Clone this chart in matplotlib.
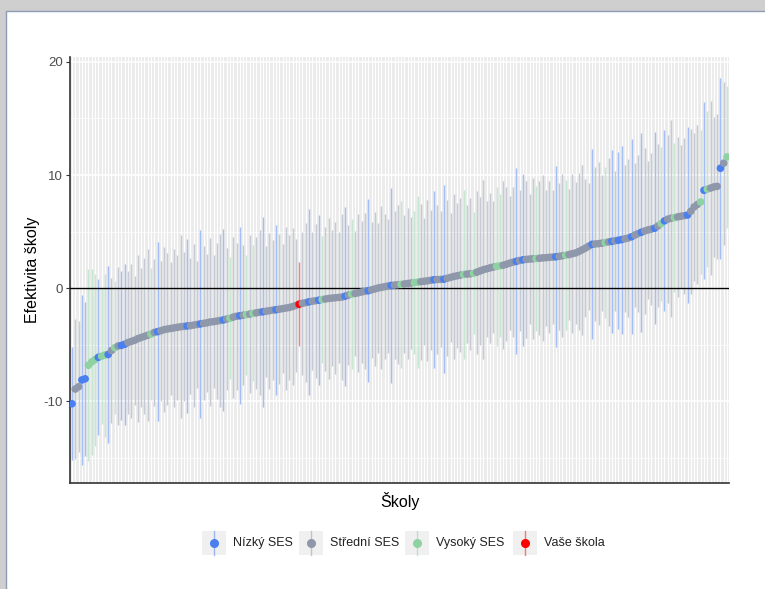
import matplotlib
matplotlib.use('Agg')
import matplotlib.pyplot as plt
from matplotlib.patches import Rectangle
from matplotlib.lines import Line2D
import numpy as np

plt.rcParams['font.family'] = ['Liberation Sans', 'DejaVu Sans']
plt.rcParams['axes.unicode_minus'] = False

# efektivita skol (serazeno), odhad
effect = [
    -10.2, -8.9, -8.7, -8.1, -8.0, -6.8, -6.5, -6.3, -6.1, -6.0,
    -5.9, -5.85, -5.5, -5.25, -5.1, -5.05, -4.95, -4.8, -4.7, -4.6,
    -4.45, -4.35, -4.25, -4.15, -4.05, -3.9, -3.83, -3.75, -3.65, -3.6,
    -3.55, -3.5, -3.45, -3.4, -3.37, -3.33, -3.3, -3.25, -3.2, -3.15,
    -3.1, -3.05, -2.98, -2.95, -2.9, -2.85, -2.8, -2.72, -2.65, -2.55,
    -2.47, -2.43, -2.38, -2.33, -2.28, -2.22, -2.17, -2.12, -2.08, -2.03,
    -1.98, -1.93, -1.9, -1.85, -1.8, -1.75, -1.7, -1.62, -1.52, -1.41,
    -1.33, -1.27, -1.2, -1.15, -1.1, -1.06, -1.0, -0.95, -0.9, -0.87,
    -0.84, -0.81, -0.78, -0.7, -0.6, -0.52, -0.46, -0.4, -0.33, -0.27,
    -0.22, -0.14, -0.06, 0.02, 0.08, 0.14, 0.2, 0.25, 0.28, 0.31,
    0.34, 0.38, 0.42, 0.46, 0.5, 0.54, 0.58, 0.62, 0.66, 0.71,
    0.75, 0.77, 0.78, 0.8, 0.88, 0.96, 1.04, 1.1, 1.16, 1.22,
    1.25, 1.28, 1.32, 1.42, 1.53, 1.64, 1.72, 1.8, 1.87, 1.93,
    1.98, 2.03, 2.12, 2.22, 2.3, 2.38, 2.45, 2.51, 2.55, 2.58,
    2.6, 2.62, 2.65, 2.68, 2.7, 2.73, 2.75, 2.78, 2.82, 2.87,
    2.92, 2.98, 3.05, 3.12, 3.25, 3.4, 3.55, 3.72, 3.88, 3.91,
    3.94, 3.98, 4.03, 4.09, 4.14, 4.19, 4.24, 4.3, 4.37, 4.44,
    4.55, 4.7, 4.83, 4.95, 5.06, 5.15, 5.22, 5.3, 5.5, 5.71,
    5.95, 6.1, 6.18, 6.24, 6.3, 6.36, 6.41, 6.47, 6.8, 7.18,
    7.4, 7.62, 8.65, 8.75, 8.85, 8.95, 9.0, 10.6, 11.05, 11.6,
]

# polovina intervalu
half = [
    5.0, 6.2, 5.8, 7.5, 6.8, 8.5, 8.2, 7.6, 6.9, 6.0,
    7.2, 7.8, 6.4, 5.9, 7.0, 6.6, 7.1, 6.3, 6.8, 5.7,
    7.4, 6.1, 6.9, 7.6, 5.8, 6.5, 7.9, 6.2, 7.3, 6.7,
    5.9, 7.0, 6.4, 8.1, 6.6, 7.7, 6.0, 7.2, 5.6, 8.3,
    6.8, 6.1, 7.4, 5.9, 6.9, 7.6, 8.0, 6.3, 5.4, 7.1,
    6.5, 7.8, 6.2, 5.3, 7.0, 6.0, 6.7, 7.3, 8.4, 5.8,
    6.9, 6.2, 7.5, 6.6, 5.7, 7.2, 6.4, 6.9, 5.9, 3.7,
    6.3, 7.0, 8.2, 6.1, 6.8, 7.5, 5.6, 6.4, 7.1, 6.0,
    6.7, 5.8, 7.3, 7.9, 6.2, 6.6, 5.5, 7.0, 6.3, 6.9,
    8.1, 6.0, 6.8, 5.7, 7.2, 6.4, 5.9, 8.6, 6.5, 7.0,
    7.4, 6.1, 6.7, 5.8, 6.3, 7.6, 6.9, 5.6, 7.1, 6.2,
    7.8, 6.6, 6.0, 8.3, 6.9, 5.7, 7.3, 6.4, 6.8, 7.5,
    6.1, 6.7, 5.4, 7.2, 6.5, 7.9, 6.0, 6.6, 5.8, 7.0,
    6.3, 7.4, 6.8, 5.9, 6.6, 8.2, 6.2, 7.6, 6.9, 5.7,
    7.1, 6.4, 6.8, 7.3, 6.0, 6.7, 5.9, 8.0, 6.5, 7.2,
    6.6, 5.8, 7.0, 6.3, 6.9, 7.5, 6.1, 5.6, 8.4, 6.8,
    7.2, 6.0, 6.7, 7.4, 8.1, 6.2, 7.8, 8.3, 6.5, 7.0,
    8.6, 6.4, 6.9, 8.8, 7.3, 6.1, 6.7, 8.5, 7.2, 6.8,
    8.0, 7.4, 8.7, 6.6, 7.1, 6.3, 6.9, 7.8, 7.3, 6.5,
    7.0, 6.4, 7.8, 6.9, 7.7, 6.2, 6.4, 8.0, 7.2, 6.3,
]

# N = nizky SES, S = stredni, V = vysoky, A = vase skola
ses = list(
    'NSSNNVVVNV' 'VNSVSNNSSS'
    'SSSSVSNSSS' 'SSSSSNSSSN'
    'SSSSSSNSVS' 'SNSVSVSSNS'
    'SSNSSSSSSA' 'SSNSSNVSSS'
    'SSSNSVSSSS' 'NSSSSSSNSS'
    'VSSSVVSSSS' 'NSSNSSSSSV'
    'SSVSSSSSSV' 'VSSSSNSNSS'
    'SVSSSSSNSS' 'VSSSSSSSNS'
    'SSVSNSNNSS' 'NSSNSSSNSV'
    'NSSVSSSNSS' 'SVNVSSSNSV'
)

labels = {'N': 'Nízký SES', 'S': 'Střední SES', 'V': 'Vysoký SES', 'A': 'Vaše škola'}
colors = {'N': '#4a7ff0', 'S': '#8f97aa', 'V': '#8fd2a2', 'A': '#ff0000'}

effect = np.array(effect)
half = np.array(half)
x = np.arange(len(effect))
col = [colors[s] for s in ses]

fig = plt.figure(figsize=(7.65, 5.89), dpi=100, facecolor='#cfcfcf')
fig.add_artist(Rectangle((6 / 765, -0.01), 1.0, 1 - 11 / 589 + 0.01,
                         transform=fig.transFigure, facecolor='white',
                         edgecolor='#8d9bb4', lw=1, zorder=-10))

ax = fig.add_axes([70 / 765, 1 - 483 / 589, (729 - 70) / 765, (483 - 56.7) / 589])
ax.set_facecolor('#ebebeb')

ax.vlines(x, effect - half, effect + half, colors=col, lw=1, alpha=0.5, zorder=2)
ax.axhline(0, color='black', lw=1, zorder=3)
ax.scatter(x, effect, c=col, s=30, linewidths=0, zorder=4)

ax.set_xlim(-0.6, len(effect) - 0.4)
ax.set_ylim(-17.2, 20.45)
ax.set_xticks(x)
ax.set_xticklabels([])
ax.tick_params(axis='x', length=0)
ax.set_yticks([-10, 0, 10, 20])
ax.set_yticks([-15, -5, 5, 15], minor=True)
ax.tick_params(axis='y', which='major', length=3, color='#333333',
               labelsize=9.5, labelcolor='#4d4d4d', pad=2)
ax.tick_params(axis='y', which='minor', length=0)
ax.grid(axis='x', which='major', color='white', lw=0.8, zorder=0)
ax.grid(axis='y', which='major', color='white', lw=1.1, zorder=0)
ax.grid(axis='y', which='minor', color='white', lw=0.5, zorder=0)
ax.set_axisbelow(True)

for side in ['top', 'right']:
    ax.spines[side].set_visible(False)
for side in ['left', 'bottom']:
    ax.spines[side].set_color('#333333')
    ax.spines[side].set_linewidth(1.2)

ax.set_xlabel('Školy', fontsize=11.5, labelpad=3)
ax.set_ylabel('Efektivita školy', fontsize=11.5, labelpad=3)

# legenda dole
def fx(px):
    return px / 765

def fy(py):
    return 1 - py / 589

key_x = [201.7, 299, 405, 512.7]
for kx, code in zip(key_x, ['N', 'S', 'V', 'A']):
    fig.add_artist(Rectangle((fx(kx), fy(555)), 24 / 765, 24 / 589,
                             transform=fig.transFigure, facecolor='#f0f0f0',
                             edgecolor='none'))
    fig.add_artist(Line2D([fx(kx + 12)] * 2, [fy(555), fy(531)],
                          transform=fig.transFigure, color=colors[code],
                          lw=1, alpha=0.5))
    fig.add_artist(Line2D([fx(kx + 12)], [fy(543)], transform=fig.transFigure,
                          marker='o', markersize=5.5, color=colors[code], lw=0))
    fig.text(fx(kx + 31), fy(543), labels[code], fontsize=9, color='#222222',
             va='center', ha='left')

fig.savefig('out.png', dpi=100, facecolor=fig.get_facecolor())
